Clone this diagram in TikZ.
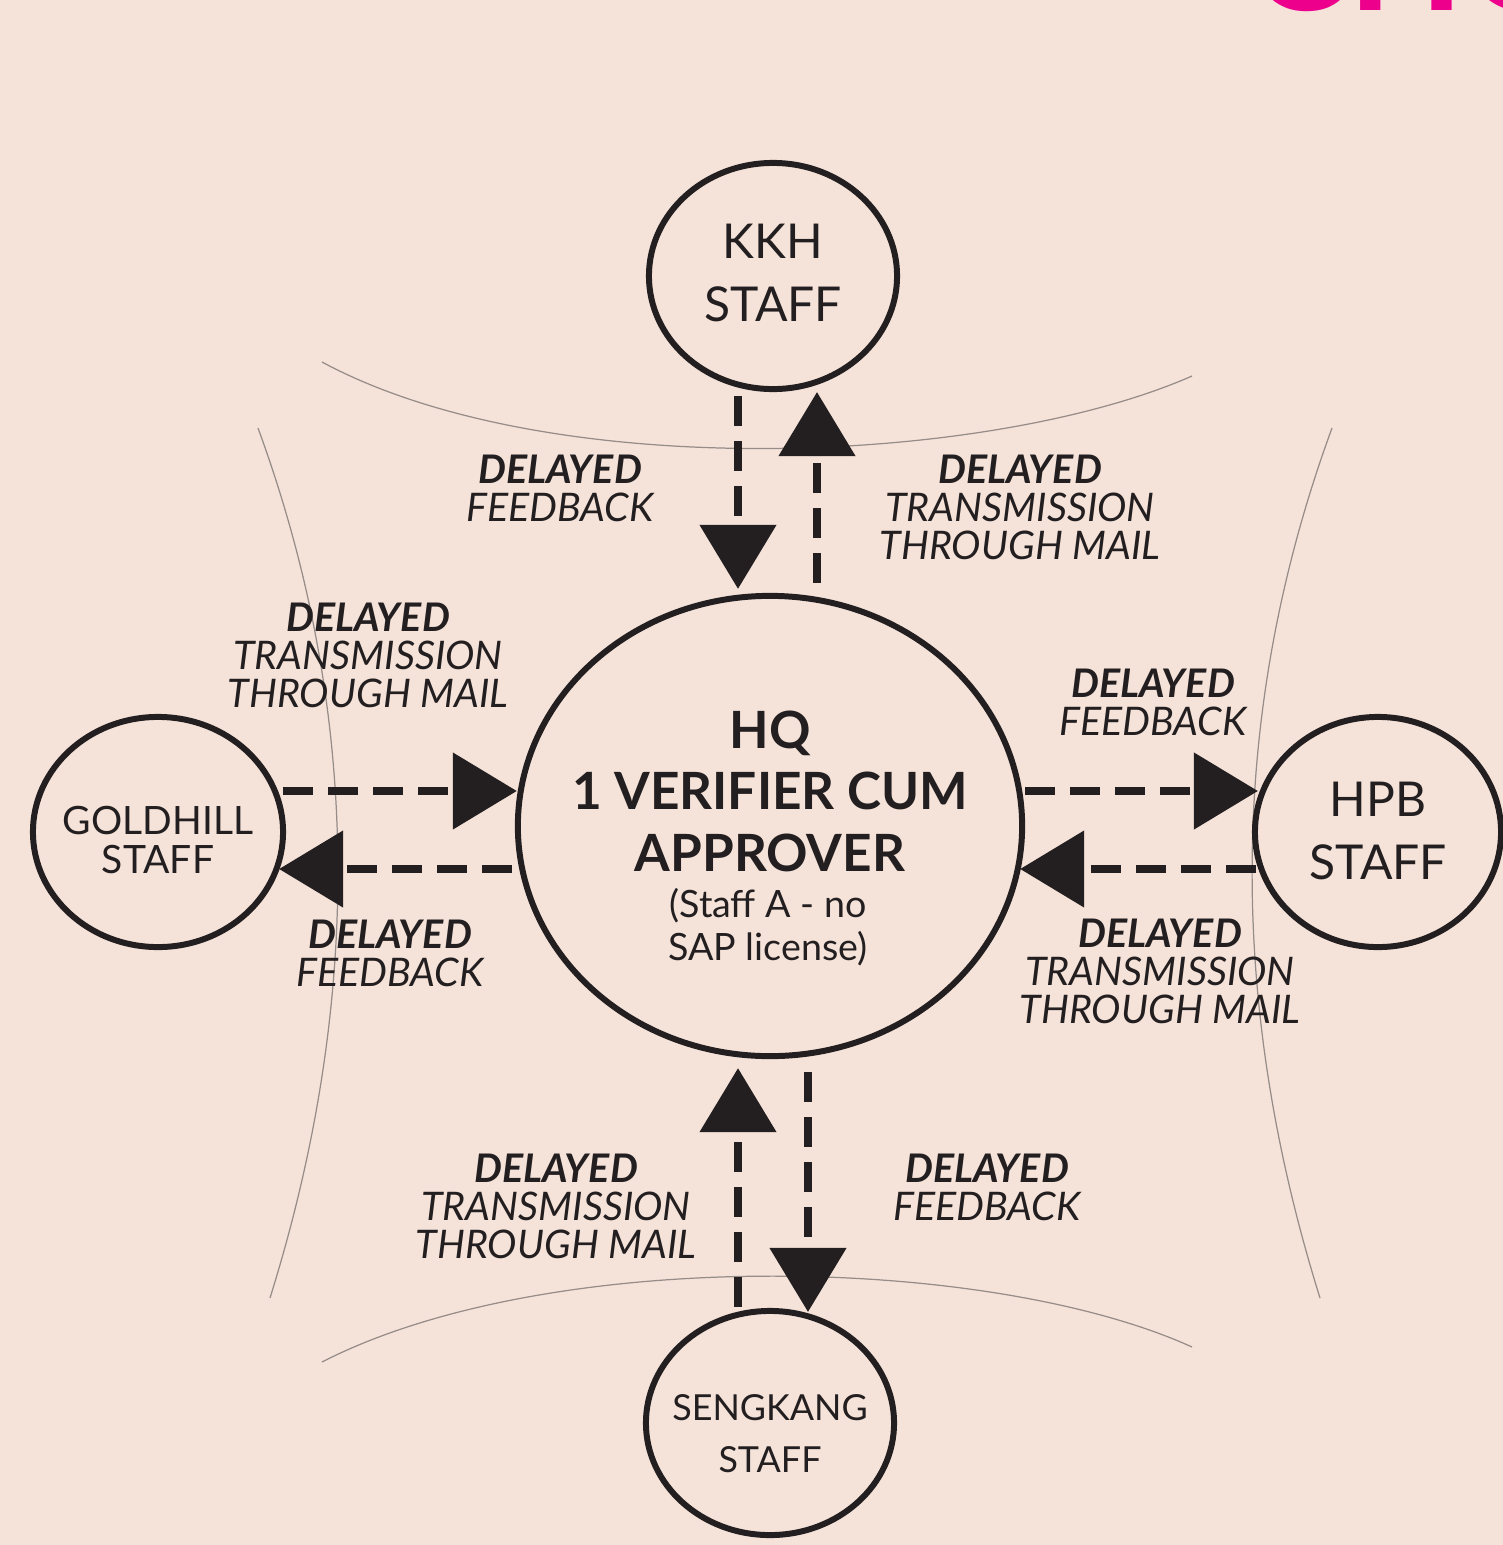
\documentclass[tikz,border=0pt]{standalone}
\usepackage{fontspec}
\setmainfont{Lato}
\usetikzlibrary{shapes.geometric,arrows.meta}
\definecolor{paper}{RGB}{245,227,218}
\definecolor{ink}{RGB}{35,31,32}
\definecolor{guide}{RGB}{150,140,136}
\definecolor{hotpink}{RGB}{236,0,140}
\tikzset{staff/.style={ellipse, draw=ink, line width=1.7pt, inner sep=0pt},
         stafftext/.style={text=ink, align=center, inner sep=0pt},
         bigname/.style={font=\fontsize{13.66}{18}\selectfont},
         flow/.style={draw=ink, line width=2.3pt, dash pattern=on 0.3cm off 0.15cm,
         -{Triangle[length=0.64cm, width=0.75cm]}},
         flowlabel/.style={text=ink, align=center, inner sep=0pt,
         font=\fontsize{11.2}{10.8}\selectfont\itshape},
         guideline/.style={draw=guide, line width=0.35pt}}

\begin{document}
\begin{tikzpicture}[x=0.01cm, y=-0.01cm]
    \useasboundingbox (0,0) rectangle (1503,1545);
    \fill[paper] (0,0) rectangle (1503,1545);

    \begin{scope}
      \clip (0,0) rectangle (1503,1545);
      \node[text=hotpink, font=\fontsize{42.7}{42.7}\selectfont\bfseries,
            anchor=base west, inner sep=0pt] (banner) at (1248,10) {CHO};
    \end{scope}

    \draw[guideline] (322,362) .. controls (550,485) and (990,465) .. (1192,376);
    \draw[guideline] (322,1362) .. controls (550,1245) and (990,1255) .. (1192,1347);
    \draw[guideline] (258,428) .. controls (365,720) and (360,1010) .. (270,1298);
    \draw[guideline] (1332,428) .. controls (1225,720) and (1230,1010) .. (1320,1298);

    \node[staff, minimum width=2.48cm, minimum height=2.26cm] (kkh) at (773,276) {};
    \node[staff, minimum width=2.46cm, minimum height=2.30cm] (hpb) at (1378,832) {};
    \node[staff, minimum width=2.50cm, minimum height=2.30cm] (goldhill) at (158,832) {};
    \node[staff, minimum width=2.48cm, minimum height=2.24cm] (sengkang) at (770,1423) {};
    \node[staff, minimum width=5.04cm, minimum height=4.60cm] (hq) at (770,826) {};

    \node[stafftext, bigname] (kkhname) at (773,273) {KKH\\STAFF};
    \node[stafftext, bigname] (hpbname) at (1378,831) {HPB\\STAFF};
    \node[stafftext, font=\fontsize{11.1}{11}\selectfont] (goldhillname) at (158,840) {GOLDHILL\\STAFF};
    \node[stafftext, font=\fontsize{10.2}{14.8}\selectfont] (sengkangname) at (770,1434) {SENGKANG\\STAFF};
    \node[stafftext, font=\fontsize{14.6}{17.5}\selectfont\bfseries]
          (hqtitle) at (770,791) {HQ\\1 VERIFIER CUM\\APPROVER};
    \node[stafftext, font=\fontsize{10.7}{12.2}\selectfont]
          (hqnote) at (768,927) {(Staff A - no\\SAP license)};

    \draw[flow] ([shift={(-35,4)}]kkh.south) -- ([shift={(-32,-4)}]hq.north);
    \draw[flow] ([shift={(47,-10)}]hq.north) -- ([shift={(44,0)}]kkh.south);
    \draw[flow] ([shift={(-3,-41)}]goldhill.east) -- ([shift={(2,-35)}]hq.west);
    \draw[flow] ([shift={(-3,43)}]hq.west) -- ([shift={(-7,37)}]goldhill.east);
    \draw[flow] ([shift={(0,-35)}]hq.east) -- ([shift={(6,-41)}]hpb.west);
    \draw[flow] ([shift={(4,37)}]hpb.west) -- ([shift={(-5,43)}]hq.east);
    \draw[flow] ([shift={(-32,-1)}]sengkang.north) -- ([shift={(-32,9)}]hq.south);
    \draw[flow] ([shift={(38,13)}]hq.south) -- ([shift={(38,4)}]sengkang.north);

    \node[flowlabel] (kkhback) at (560,488) {\textbf{DELAYED}\\FEEDBACK};
    \node[flowlabel] (kkhmail) at (1020,507) {\textbf{DELAYED}\\TRANSMISSION\\THROUGH MAIL};
    \node[flowlabel] (goldmail) at (368,655) {\textbf{DELAYED}\\TRANSMISSION\\THROUGH MAIL};
    \node[flowlabel] (goldback) at (390,953) {\textbf{DELAYED}\\FEEDBACK};
    \node[flowlabel] (hpbback) at (1153,702) {\textbf{DELAYED}\\FEEDBACK};
    \node[flowlabel] (hpbmail) at (1160,971) {\textbf{DELAYED}\\TRANSMISSION\\THROUGH MAIL};
    \node[flowlabel] (sengmail) at (556,1206) {\textbf{DELAYED}\\TRANSMISSION\\THROUGH MAIL};
    \node[flowlabel] (sengback) at (987,1187) {\textbf{DELAYED}\\FEEDBACK};
\end{tikzpicture}
\end{document}
